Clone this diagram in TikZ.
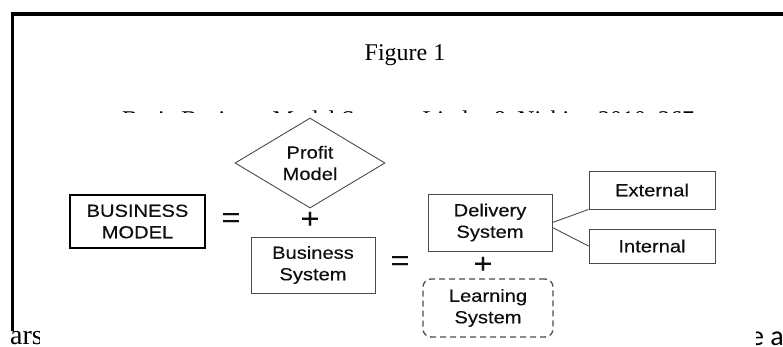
\documentclass[tikz,border=0pt]{standalone}
\usepackage{fontspec}
\setmainfont{Liberation Serif}
\newfontfamily\diagfont{Liberation Sans}[FakeStretch=1.15, FakeBold=0.4]
\newfontfamily\bodysans{Carlito}
\usepackage{tikz}
\usetikzlibrary{calc, positioning, shapes.geometric}
\definecolor{boxgrey}{RGB}{75,75,75}
\definecolor{inkblack}{RGB}{15,15,15}

\begin{document}
\begin{tikzpicture}[x=1pt, y=-1pt, font=\diagfont\fontsize{17.5}{21.5}\selectfont,
    sysbox/.style={draw=boxgrey, line width=0.9pt, inner sep=0pt, align=center, text=inkblack}]
  \useasboundingbox (0,0) rectangle (783,346);
  % page frame and page text
  \draw[line width=3.3pt] (12.5,331) -- (12.5,14) -- (790,14);
  \node[font=\rmfamily\fontsize{24}{28}\selectfont, anchor=base] (fig) at (405,60) {Figure 1};
  \begin{scope}
    \clip (90,100) rectangle (730,112.5);
    \node[font=\rmfamily\fontsize{24}{28}\selectfont, anchor=base] (cap) at (408,127)
      {Basic Business Model Source: Linder \& Nishiya 2010, 267};
  \end{scope}
  \begin{scope}
    \clip (0,320) rectangle (39,346);
    \node[font=\rmfamily\fontsize{28}{30}\selectfont, anchor=base west, inner sep=0pt] (lft) at (10,344) {ars};
  \end{scope}
  \begin{scope}
    \clip (756,320) rectangle (783,346);
    \node[font=\bodysans\fontsize{28}{30}\selectfont, anchor=base west, inner sep=0pt] (rgt) at (750,345) {e a};
  \end{scope}

  % boxes of the model
  \node[sysbox, draw=black, line width=2.5pt, minimum width=135pt, minimum height=53pt] (bizmodel) at (137.5,221.5) {BUSINESS\\MODEL};
  \node[sysbox, diamond, aspect=1.67, minimum width=150pt, minimum height=90pt] (profit) at (310,163) {Profit\\Model};
  \node[sysbox, minimum width=124pt, minimum height=56pt] (bizsys) at (313,265) {Business\\System};
  \node[sysbox, minimum width=124pt, minimum height=57pt] (deliv) at (490,222.5) {Delivery\\System};
  \node[sysbox, dashed, dash pattern=on 6pt off 4pt, line width=1.3pt, rounded corners=8pt,
        minimum width=130pt, minimum height=58pt] (learn) at (488,308) {Learning\\System};
  \node[sysbox, minimum width=126pt, minimum height=38pt] (ext) at (652,190) {External};
  \node[sysbox, minimum width=126pt, minimum height=34pt] (int) at (652,246) {Internal};

  % sign, x, y
  \foreach \s/\x/\y in {=/231/220, +/310/220, =/400/263, +/483/265} {
    \node[text=inkblack, font=\diagfont\fontsize{28}{28}\selectfont, inner sep=0pt] at (\x,\y) {\s};
  }

  \draw[boxgrey, line width=0.9pt] (deliv.east) -- (ext.south west);
  \draw[boxgrey, line width=0.9pt] ([yshift=-5pt]deliv.east) -- (int.west);
\end{tikzpicture}
\end{document}
